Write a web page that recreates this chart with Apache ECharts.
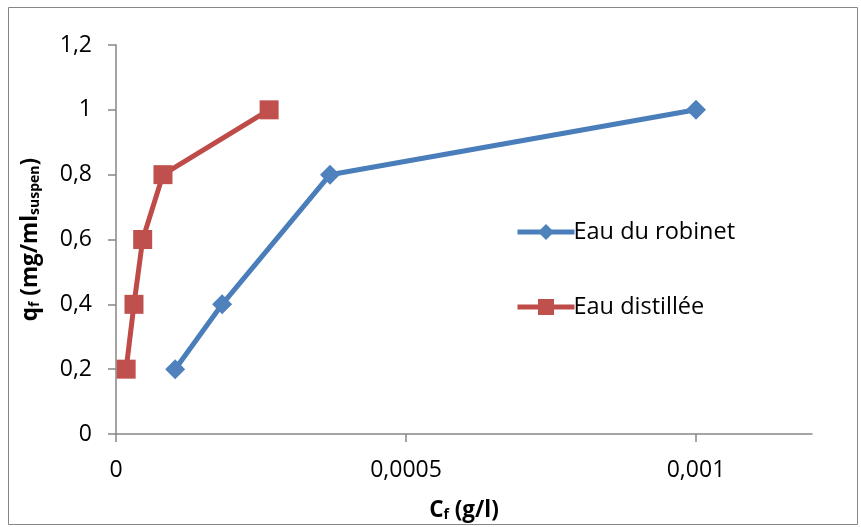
<!DOCTYPE html>
<html><head><meta charset="utf-8">
<script src="https://cdn.jsdelivr.net/npm/echarts@6/dist/echarts.min.js"></script>
<style>html,body{margin:0;padding:0;background:#fff}#c{width:861px;height:527px}</style>
</head><body><div id="c"></div>
<script>
const robinetX = [0.000102, 0.000183, 0.000369, 0.001];
const robinetY = [0.2, 0.4, 0.8, 1.0];
const distilleeX = [0.0000175, 0.000031, 0.000046, 0.000081, 0.000264];
const distilleeY = [0.2, 0.4, 0.6, 0.8, 1.0];
const xTicks = [0, 0.0005, 0.001];
const yTicks = [0, 0.2, 0.4, 0.6, 0.8, 1, 1.2];
const seriesNames = ['Eau du robinet', 'Eau distillée'];

const FONT = '"Open Sans", sans-serif';
const fmt = v => String(+v.toFixed(6)).replace('.', ',');
const rich = {
  a: {fontFamily: FONT, fontSize: 22.5, fontWeight: 'bold', color: '#000', verticalAlign: 'bottom', lineHeight: 28},
  s: {fontFamily: FONT, fontSize: 14, fontWeight: 'bold', color: '#000', verticalAlign: 'bottom', lineHeight: 20}
};
const chart = echarts.init(document.getElementById('c'), null, {renderer: 'canvas'});
chart.setOption({
  animation: false,
  backgroundColor: '#fff',
  textStyle: {fontFamily: FONT},
  graphic: [{type: 'rect', shape: {x: 8.5, y: 7.5, width: 849, height: 517}, style: {fill: 'none', stroke: '#868686', lineWidth: 1}, silent: true}],
  grid: {left: 116, right: 49, top: 45, bottom: 91, containLabel: false},
  legend: {
    orient: 'vertical', left: 510, top: 215, itemWidth: 57, itemHeight: 20, itemGap: 51,
    lineStyle: {width: 5},
    textStyle: {fontFamily: FONT, fontSize: 23.5, color: '#000', padding: [0, 0, 0, -6]},
    data: seriesNames
  },
  xAxis: {
    type: 'value', min: 0, max: 0.0012,
    name: '{a|C}{s|f}{a| (g/l)}', nameLocation: 'middle', nameGap: 60,
    nameTextStyle: {rich: rich},
    splitLine: {show: false},
    axisLine: {lineStyle: {color: '#868686', width: 1.5}},
    axisTick: {show: true, length: 8, lineStyle: {color: '#868686', width: 1.5}, customValues: xTicks},
    axisLabel: {customValues: xTicks, formatter: fmt, fontFamily: FONT, fontSize: 23, color: '#000', margin: 25}
  },
  yAxis: {
    type: 'value', min: 0, max: 1.2, interval: 0.2,
    name: '{a|q}{s|f}{a| (mg/ml}{s|suspen}{a|)}', nameLocation: 'middle', nameGap: 74, nameRotate: 90,
    nameTextStyle: {rich: rich},
    splitLine: {show: false},
    axisLine: {show: true, lineStyle: {color: '#868686', width: 1.5}},
    axisTick: {show: true, length: 8, lineStyle: {color: '#868686', width: 1.5}, customValues: yTicks},
    axisLabel: {customValues: yTicks, formatter: fmt, fontFamily: FONT, fontSize: 23, color: '#000', margin: 24}
  },
  series: [
    {name: seriesNames[0], type: 'line', data: robinetX.map((x, i) => [x, robinetY[i]]),
     symbol: 'diamond', symbolSize: 20, lineStyle: {color: '#4A7EBB', width: 5},
     itemStyle: {color: '#4F81BD'}},
    {name: seriesNames[1], type: 'line', data: distilleeX.map((x, i) => [x, distilleeY[i]]),
     symbol: 'rect', symbolSize: 19, lineStyle: {color: '#BE4B48', width: 5},
     itemStyle: {color: '#C0504D'}}
  ]
});
</script></body></html>
